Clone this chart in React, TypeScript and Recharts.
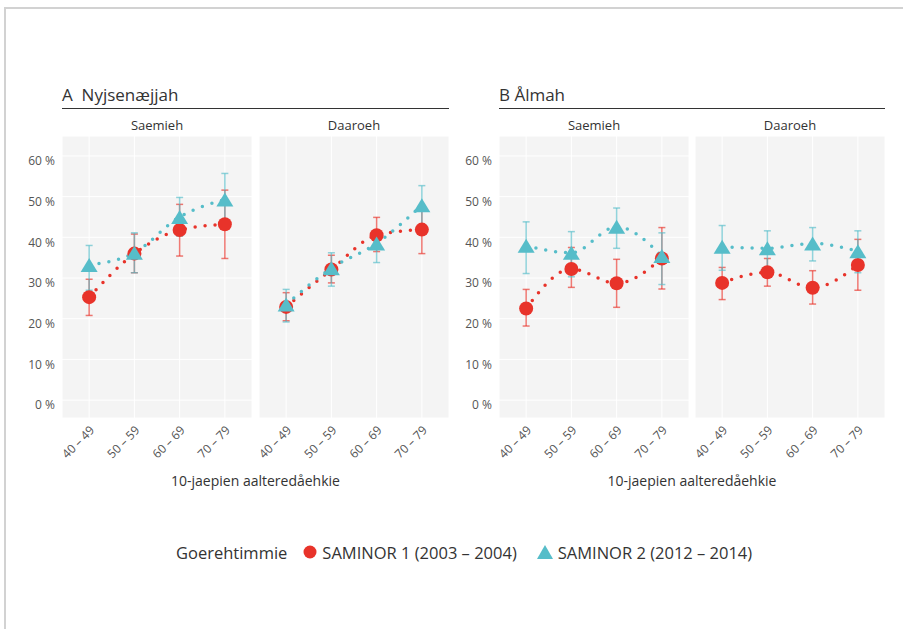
import {
  ComposedChart,
  Line,
  Scatter,
  ErrorBar,
  XAxis,
  YAxis,
  CartesianGrid,
} from "recharts";

const RED = "#e8332a";
const TEAL = "#56bdc9";

const ageGroups = ["40 – 49", "50 – 59", "60 – 69", "70 – 79"];
const yTicks = [0, 5, 10, 15, 20, 25, 30, 35, 40, 45, 50, 55, 60];

// A Nyjsenæjjah
const nySaemiehS1 = [25.3, 36.0, 41.8, 43.2];
const nySaemiehS1Ci = [[20.8, 29.7], [31.3, 40.8], [35.4, 48.1], [34.8, 51.6]];
const nySaemiehS2 = [33.2, 36.2, 45.0, 49.3];
const nySaemiehS2Ci = [[27.0, 38.0], [31.3, 41.1], [40.3, 49.8], [43.5, 55.7]];
const nyDaaroehS1 = [22.9, 32.1, 40.5, 41.9];
const nyDaaroehS1Ci = [[19.5, 26.4], [28.8, 35.6], [36.5, 44.9], [36.0, 46.5]];
const nyDaaroehS2 = [23.5, 32.4, 38.5, 47.9];
const nyDaaroehS2Ci = [[19.2, 27.2], [28.0, 36.2], [33.8, 41.6], [42.4, 52.7]];

// B Ålmah
const alSaemiehS1 = [22.5, 32.2, 28.7, 34.8];
const alSaemiehS1Ci = [[18.2, 27.2], [27.7, 37.5], [22.8, 34.6], [27.3, 42.4]];
const alSaemiehS2 = [37.9, 36.2, 42.6, 35.4];
const alSaemiehS2Ci = [[31.1, 43.8], [30.3, 41.4], [37.3, 47.2], [28.4, 41.1]];
const alDaaroehS1 = [28.8, 31.4, 27.6, 33.2];
const alDaaroehS1Ci = [[24.7, 32.6], [28.0, 34.8], [23.6, 31.8], [27.0, 39.5]];
const alDaaroehS2 = [37.7, 37.3, 38.5, 36.6];
const alDaaroehS2Ci = [[31.9, 42.9], [31.9, 41.6], [34.2, 42.4], [31.3, 41.6]];

function buildRows(s1: number[], s1Ci: number[][], s2: number[], s2Ci: number[][]) {
  return ageGroups.map((g, i) => ({
    x: i + 1,
    group: g,
    s1: s1[i],
    s1Err: [s1[i] - s1Ci[i][0], s1Ci[i][1] - s1[i]],
    s2: s2[i],
    s2Err: [s2[i] - s2Ci[i][0], s2Ci[i][1] - s2[i]],
  }));
}

const panels = [
  { left: 62, showY: true, strip: "Saemieh", rows: buildRows(nySaemiehS1, nySaemiehS1Ci, nySaemiehS2, nySaemiehS2Ci) },
  { left: 259, showY: false, strip: "Daaroeh", rows: buildRows(nyDaaroehS1, nyDaaroehS1Ci, nyDaaroehS2, nyDaaroehS2Ci) },
  { left: 499, showY: true, strip: "Saemieh", rows: buildRows(alSaemiehS1, alSaemiehS1Ci, alSaemiehS2, alSaemiehS2Ci) },
  { left: 695, showY: false, strip: "Daaroeh", rows: buildRows(alDaaroehS1, alDaaroehS1Ci, alDaaroehS2, alDaaroehS2Ci) },
];

const PANEL_W = 190;
const PLOT_TOP = 136;
const PLOT_BOTTOM = 418;
const AXIS_W = 60;

const XTick = (props: any) => {
  const { x, y, payload } = props;
  const ax = x + 6;
  const ay = y + 13;
  return (
    <text
      x={ax}
      y={ay}
      textAnchor="end"
      fontSize={12}
      fill="#555"
      transform={`rotate(-45, ${ax}, ${ay})`}
    >
      {ageGroups[payload.value - 1]}
    </text>
  );
};

const YTick = (props: any) => {
  const { x, y, payload } = props;
  if (payload.value % 10 !== 0) return <g />;
  return (
    <text x={x} y={y + 5} dy="0.35em" textAnchor="end" fontSize={12} fill="#555">
      {`${payload.value} %`}
    </text>
  );
};

const circleShape = (p: any) => <circle cx={p.cx} cy={p.cy} r={7} fill={RED} />;
const triangleShape = (p: any) => (
  <polygon
    points={`${p.cx},${p.cy - 7} ${p.cx - 8.5},${p.cy + 7} ${p.cx + 8.5},${p.cy + 7}`}
    fill={TEAL}
  />
);
const noShape = () => <g />;

function Panel({ left, showY, rows }: { left: number; showY: boolean; rows: any[] }) {
  return (
    <div style={{ position: "absolute", left: left - AXIS_W, top: 0 }}>
      <ComposedChart
        width={AXIS_W + PANEL_W}
        height={PLOT_BOTTOM + 60}
        data={rows}
        margin={{ top: PLOT_TOP, right: 0, bottom: 0, left: 0 }}
      >
        <CartesianGrid fill="#f4f4f4" stroke="#ffffff" strokeWidth={1} />
        <XAxis
          dataKey="x"
          type="number"
          domain={[0.4, 4.6]}
          ticks={[1, 2, 3, 4]}
          allowDataOverflow
          axisLine={false}
          tickLine={false}
          tickSize={0}
          tickMargin={0}
          height={60}
          tick={(p: any) => <XTick {...p} />}
        />
        <YAxis
          type="number"
          domain={[-4.4, 64.9]}
          ticks={yTicks}
          allowDataOverflow
          axisLine={false}
          tickLine={false}
          tickSize={0}
          tickMargin={7}
          width={AXIS_W}
          tick={showY ? (p: any) => <YTick {...p} /> : false}
        />
        <Line
          dataKey="s1"
          type="monotone"
          stroke={RED}
          strokeWidth={3.5}
          strokeDasharray="0 10"
          strokeLinecap="round"
          dot={false}
          activeDot={false}
          isAnimationActive={false}
        />
        <Line
          dataKey="s2"
          type="monotone"
          stroke={TEAL}
          strokeWidth={3.5}
          strokeDasharray="0 10"
          strokeLinecap="round"
          dot={false}
          activeDot={false}
          isAnimationActive={false}
        />
        <Scatter dataKey="s1" shape={circleShape} isAnimationActive={false} />
        <Scatter dataKey="s2" shape={triangleShape} isAnimationActive={false} />
        <Scatter dataKey="s1" shape={noShape} isAnimationActive={false}>
          <ErrorBar dataKey="s1Err" direction="y" width={3.5} stroke={RED} strokeOpacity={0.65} strokeWidth={1.5} />
        </Scatter>
        <Scatter dataKey="s2" shape={noShape} isAnimationActive={false}>
          <ErrorBar dataKey="s2Err" direction="y" width={3.5} stroke={TEAL} strokeOpacity={0.65} strokeWidth={1.5} />
        </Scatter>
      </ComposedChart>
    </div>
  );
}

const textBase: React.CSSProperties = { position: "absolute", whiteSpace: "nowrap", color: "#333" };

export default function App() {
  return (
    <div
      style={{
        position: "absolute",
        left: 0,
        top: 0,
        width: 903,
        height: 629,
        background: "#fff",
        fontFamily: "'Open Sans', sans-serif",
        overflow: "hidden",
      }}
    >
      <div
        style={{
          position: "absolute",
          left: 4,
          top: 7,
          width: 905,
          height: 630,
          borderTop: "2px solid #d2d2d2",
          borderLeft: "2px solid #d2d2d2",
        }}
      />
      {panels.map((p, i) => (
        <Panel key={i} left={p.left} showY={p.showY} rows={p.rows} />
      ))}
      {panels.map((p, i) => (
        <div
          key={"s" + i}
          style={{ ...textBase, left: p.left, width: PANEL_W, top: 117, textAlign: "center", fontSize: 13, lineHeight: "16px" }}
        >
          {p.strip}
        </div>
      ))}
      <div style={{ ...textBase, left: 62, top: 84, fontSize: 17, lineHeight: "22px" }}>A&nbsp;&nbsp;Nyjsenæjjah</div>
      <div style={{ position: "absolute", left: 62, top: 108, width: 387, height: 1, background: "#333" }} />
      <div style={{ ...textBase, left: 499, top: 84, fontSize: 17, lineHeight: "22px" }}>B Ålmah</div>
      <div style={{ position: "absolute", left: 499, top: 108, width: 386, height: 1, background: "#333" }} />
      <div style={{ ...textBase, left: 62, width: 387, top: 471, textAlign: "center", fontSize: 14, lineHeight: "20px" }}>
        10-jaepien aalteredåehkie
      </div>
      <div style={{ ...textBase, left: 499, width: 386, top: 471, textAlign: "center", fontSize: 14, lineHeight: "20px" }}>
        10-jaepien aalteredåehkie
      </div>
      <div
        style={{
          ...textBase,
          left: 176,
          top: 541,
          height: 22,
          display: "flex",
          alignItems: "center",
          fontSize: 16.5,
        }}
      >
        <span style={{ marginRight: 15 }}>Goerehtimmie</span>
        <svg width={16} height={16} style={{ marginRight: 4 }}>
          <circle cx={8} cy={8} r={6.5} fill={RED} />
        </svg>
        <span style={{ marginRight: 19 }}>SAMINOR 1 (2003 – 2004)</span>
        <svg width={18} height={16} style={{ marginRight: 4 }}>
          <polygon points="9,1 1,15 17,15" fill={TEAL} />
        </svg>
        <span>SAMINOR 2 (2012 – 2014)</span>
      </div>
    </div>
  );
}
